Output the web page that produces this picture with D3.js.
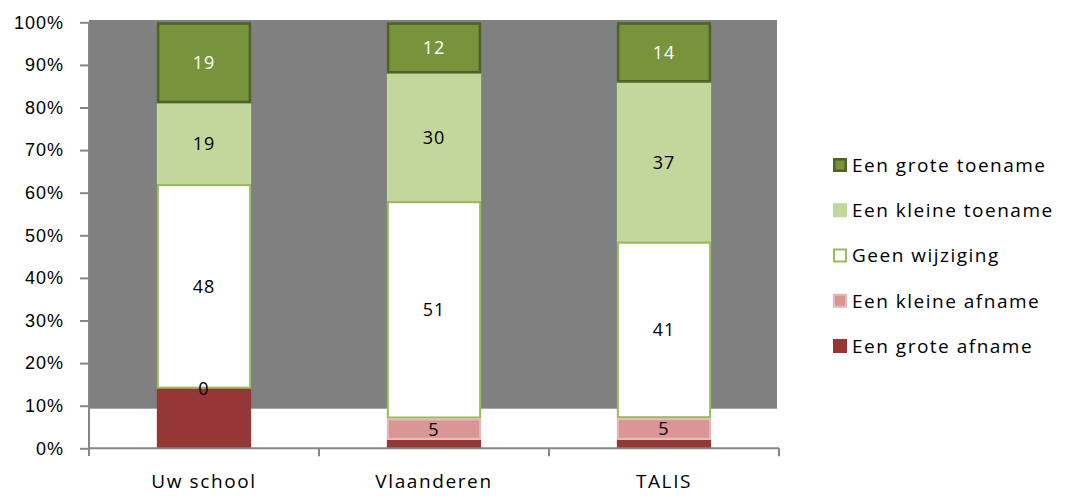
<!DOCTYPE html>
<html>
<head>
<meta charset="utf-8">
<script src="https://cdn.jsdelivr.net/npm/d3@7"></script>
<style>
  html, body { margin: 0; padding: 0; background: #fff; }
  svg { display: block; font-family: "Open Sans", "DejaVu Sans", sans-serif; }
  .axis path, .axis line { stroke: #868686; stroke-width: 2; }
  .axis text { fill: #000; font-size: 18px; letter-spacing: 1px; }
</style>
</head>
<body>
<div id="chart"></div>
<script>
const categories = ['Uw school', 'Vlaanderen', 'TALIS'];
const seriesNames = ['Een grote afname', 'Een kleine afname', 'Geen wijziging', 'Een kleine toename', 'Een grote toename'];
const grote_afname = [14, 2, 2];
const kleine_afname = [0, 5, 5];
const geen_wijziging = [48, 51, 41];
const kleine_toename = [19, 30, 37];
const grote_toename = [19, 12, 14];
const yTicks = [0, 0.1, 0.2, 0.3, 0.4, 0.5, 0.6, 0.7, 0.8, 0.9, 1];

const styles = {
  'Een grote afname':   {fill: '#953735', stroke: 'none', sw: 0, text: null},
  'Een kleine afname':  {fill: '#D99694', stroke: '#E6B9B8', sw: 2, text: '#000'},
  'Geen wijziging':     {fill: '#FFFFFF', stroke: '#9BBB59', sw: 2, text: '#000'},
  'Een kleine toename': {fill: '#C3D69B', stroke: 'none', sw: 0, text: '#000'},
  'Een grote toename':  {fill: '#77933C', stroke: '#4F6228', sw: 2.5, text: '#fff'}
};

const table = categories.map((c, i) => ({
  cat: c,
  'Een grote afname': grote_afname[i],
  'Een kleine afname': kleine_afname[i],
  'Geen wijziging': geen_wijziging[i],
  'Een kleine toename': kleine_toename[i],
  'Een grote toename': grote_toename[i]
}));

const W = 1067, H = 496;
const svg = d3.select('#chart').append('svg').attr('width', W).attr('height', H);

const x = d3.scaleBand().domain(categories).range([89, 779]).paddingInner(0.59).paddingOuter(0.295);
const y = d3.scaleLinear().domain([0, 1]).range([448.3, 22.3]);

// plot background (grey block, white strip at the bottom)
svg.append('rect')
  .attr('x', 89).attr('y', 20)
  .attr('width', 777 - 89).attr('height', y(0.093) - 20)
  .attr('fill', '#808080');

const stacked = d3.stack().keys(seriesNames).offset(d3.stackOffsetExpand)(table);

const layers = svg.selectAll('g.layer').data(stacked).enter().append('g').attr('class', 'layer');

layers.selectAll('rect')
  .data(s => s.map(d => ({key: s.key, d: d})))
  .enter().append('rect')
  .attr('x', o => x(o.d.data.cat) + styles[o.key].sw / 2)
  .attr('width', o => x.bandwidth() - styles[o.key].sw)
  .attr('y', o => y(o.d[1]) + styles[o.key].sw / 2)
  .attr('height', o => Math.max(0, y(o.d[0]) - y(o.d[1]) - styles[o.key].sw))
  .attr('fill', o => styles[o.key].fill)
  .attr('stroke', o => styles[o.key].stroke)
  .attr('stroke-width', o => styles[o.key].sw);

// axes
const yAxis = svg.append('g').attr('class', 'axis')
  .attr('transform', 'translate(89,0)')
  .call(d3.axisLeft(y).tickValues(yTicks).tickFormat(d3.format('.0%')).tickSize(9).tickSizeOuter(0).tickPadding(16));
yAxis.select('.domain').attr('d', `M0,${y(1)}V456`);

const xAxis = svg.append('g').attr('class', 'axis')
  .attr('transform', `translate(0,${y(0)})`);
xAxis.append('line').attr('x1', 89).attr('x2', 779).attr('y1', 0).attr('y2', 0)
  .attr('stroke', '#868686').attr('stroke-width', 2);
const bounds = categories.map(c => x(c) - x.step() * x.paddingOuter()).concat([779]);
xAxis.selectAll('line.tk').data(bounds.slice(1)).enter().append('line')
  .attr('class', 'tk')
  .attr('x1', d => d).attr('x2', d => d).attr('y1', 0).attr('y2', 8)
  .attr('stroke', '#868686').attr('stroke-width', 2);
xAxis.selectAll('text').data(categories).enter().append('text')
  .attr('x', d => x(d) + x.bandwidth() / 2)
  .attr('y', 40)
  .attr('text-anchor', 'middle')
  .style('font-size', '19px')
  .style('letter-spacing', '1.6px')
  .text(d => d);

// data labels (drawn above all segments)
const labels = svg.append('g');
stacked.filter(s => styles[s.key].text).forEach(s => {
  labels.selectAll(null)
    .data(s.map((d, i) => ({key: s.key, d: d, v: table[i][s.key]})))
    .enter().append('text')
    .attr('x', o => x(o.d.data.cat) + x.bandwidth() / 2)
    .attr('y', o => y((o.d[0] + o.d[1]) / 2))
    .attr('dy', '0.36em')
    .attr('text-anchor', 'middle')
    .attr('fill', o => styles[o.key].text)
    .style('font-size', '18px')
    .style('letter-spacing', '1px')
    .text(o => o.v);
});

// legend
const legendOrder = seriesNames.slice().reverse();
const leg = svg.append('g').attr('transform', 'translate(832,0)');
const rowY = d3.scalePoint().domain(legendOrder).range([165, 346]);
const items = leg.selectAll('g').data(legendOrder).enter().append('g')
  .attr('transform', d => `translate(0,${rowY(d)})`);
items.append('rect')
  .attr('x', d => 1 + styles[d].sw / 2).attr('y', d => -7 + styles[d].sw / 2)
  .attr('width', d => 14 - styles[d].sw).attr('height', d => 14 - styles[d].sw)
  .attr('fill', d => styles[d].fill)
  .attr('stroke', d => styles[d].stroke)
  .attr('stroke-width', d => styles[d].sw);
items.append('text')
  .attr('x', 20).attr('dy', '0.36em')
  .style('font-size', '19px')
  .style('letter-spacing', '1.5px')
  .text(d => d);
</script>
</body>
</html>
